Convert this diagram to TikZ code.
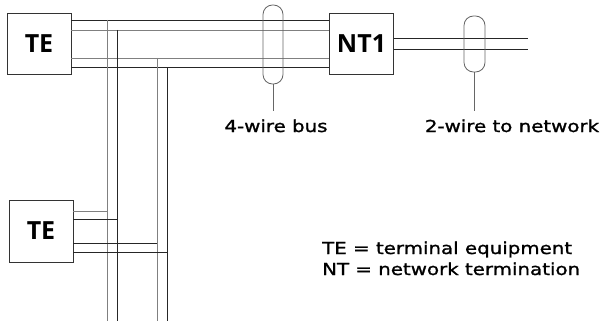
\documentclass[tikz,border=0pt]{standalone}
\usepackage{fontspec}
\setmainfont{Open Sans}
\newfontfamily\labelfont[FakeStretch=1.2, FakeBold=1.3]{DejaVu Sans}
\usetikzlibrary{positioning}

\begin{document}
\begin{tikzpicture}[
		x=1pt, y=-1pt,
		box/.style={draw=black!80, line width=0.8pt, minimum width=64pt, minimum height=61pt, inner sep=0pt, font=\fontsize{25}{25}\selectfont\bfseries},
		dark wire/.style={black!85, line width=0.8pt},
		pale wire/.style={black!50, line width=0.9pt},
		oval/.style={draw=black!60, line width=0.8pt, rounded corners=9.5pt, minimum width=20pt, inner sep=0pt},
		lead/.style={black!60, line width=0.8pt},
		tag/.style={font=\labelfont\fontsize{16.5}{16.5}\selectfont, inner xsep=2pt, inner ysep=8pt},
		legend text/.style={font=\labelfont\fontsize{16.5}{21}\selectfont, align=left, inner sep=0pt}
		]
		\useasboundingbox (0,0) rectangle (607,321);
		
		% =========================================================
		% Equipment boxes
		% =========================================================
		\node[box] (te1) at (39,43.5) {TE};
		\node[box] (nt1) at (361.5,43.5) {NT1};
		\node[box, minimum height=62pt] (te2) at (41,231) {TE};
		
		% =========================================================
		% 4-wire bus
		% =========================================================
		% Horizontal pairs between TE and NT1
		\foreach \y/\s in {20/dark wire, 30/pale wire, 58/pale wire, 67/dark wire} {
			\draw[\s] (te1.east |- 0,\y) -- (nt1.west |- 0,\y);
		}
		% Vertical branches down the page
		\foreach \x/\y/\s in {107/20/pale wire, 117/30/dark wire, 157/58/pale wire, 167/67/dark wire} {
			\draw[\s] (\x,\y) -- (\x,321);
		}
		% Taps to the second TE
		\foreach \y/\x/\s in {211/107/pale wire, 219/117/dark wire, 243/157/dark wire, 252/167/dark wire} {
			\draw[\s] (te2.east |- 0,\y) -- (\x,\y);
		}
		
		% =========================================================
		% 2-wire line to the network
		% =========================================================
		\foreach \y in {38,49} {
			\draw[dark wire] (nt1.east |- 0,\y) -- (528,\y);
		}
		
		% Ovals and their labels
		\node[oval, minimum height=79pt] (busring) at (273,44.5) {};
		\node[oval, minimum height=56pt, minimum width=21pt] (netring) at (474.5,44) {};
		\node[tag, anchor=base] (bus) at (276,132) {4-wire bus};
		\node[tag, anchor=base] (net) at (512,132) {2-wire to network};
		\draw[lead] (busring.south) -- (busring.south |- bus.north);
		\draw[lead] (netring.south) -- (netring.south |- net.north);
		
		% Legend
		\node[legend text, anchor=base west] (key) at (322,275) {TE = terminal equipment\\NT = network termination};
		
	\end{tikzpicture}
\end{document}
